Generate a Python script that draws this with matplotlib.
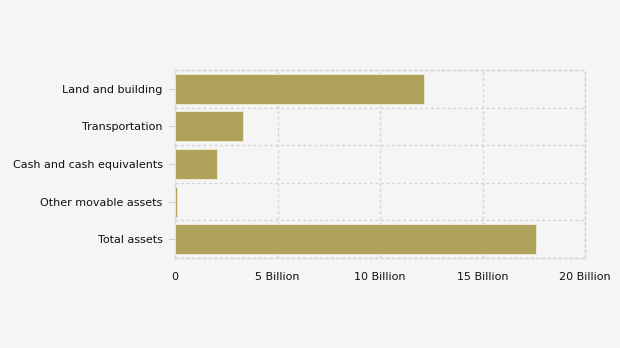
import matplotlib
matplotlib.use("Agg")
import matplotlib.pyplot as plt
import numpy as np

categories = ["Land and building", "Transportation", "Cash and cash equivalents",
              "Other movable assets", "Total assets"]
values_billion = [12.15, 3.32, 2.05, 0.1, 17.6]
x_ticks = [0, 5, 10, 15, 20]
x_tick_labels = ["0", "5 Billion", "10 Billion", "15 Billion", "20 Billion"]

bg = "#f5f5f5"
bar_color = "#afa25a"
grid_color = "#d4d4d4"

fig = plt.figure(figsize=(6.2, 3.48), dpi=100, facecolor=bg)
ax = fig.add_axes([175 / 620, 90 / 348, 410 / 620, 188 / 348], facecolor=bg)

y = np.arange(len(categories))
ax.barh(y, values_billion, height=0.8, color=bar_color, edgecolor="#f0ecd8",
        linewidth=0.6, zorder=3)

ax.set_xlim(0, 20)
ax.set_ylim(len(categories) - 0.5, -0.5)
ax.set_xticks(x_ticks)
ax.set_xticklabels(x_tick_labels)
ax.set_yticks(y)
ax.set_yticklabels(categories)
ax.set_yticks(np.arange(len(categories) + 1) - 0.5, minor=True)

ax.grid(axis="x", which="major", color=grid_color, linestyle=(0, (2, 2)), linewidth=1, zorder=0)
ax.grid(axis="y", which="minor", color=grid_color, linestyle=(0, (2, 2)), linewidth=1, zorder=0)
ax.grid(axis="y", which="major", visible=False)

for s in ax.spines.values():
    s.set_color(grid_color)
    s.set_linestyle((0, (2, 2)))
    s.set_linewidth(1)

ax.tick_params(axis="x", length=0, pad=10, labelsize=8, labelcolor="#111111")
ax.tick_params(axis="y", which="major", length=5, color=grid_color, pad=4,
               labelsize=8, labelcolor="#111111")
ax.tick_params(axis="y", which="minor", length=0)

fig.savefig("out.png", dpi=100, facecolor=bg)
